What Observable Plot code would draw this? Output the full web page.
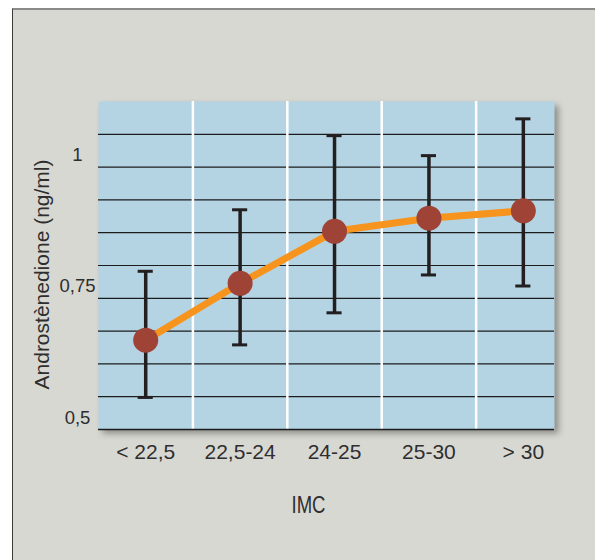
<!DOCTYPE html>
<html>
<head>
<meta charset="utf-8">
<script src="https://cdn.jsdelivr.net/npm/d3@7"></script>
<script src="https://cdn.jsdelivr.net/npm/@observablehq/plot@0.6"></script>
<style>
  html, body { margin: 0; padding: 0; background: #ffffff; }
  #wrap { position: relative; width: 595px; height: 560px; overflow: hidden; }
  #panel { position: absolute; left: 12px; top: 8px; width: 590px; height: 560px;
           background: #d8d8d3; border-top: 2px solid #8a8a88; border-left: 1.5px solid #3a3a3a; }
  #chart { position: absolute; left: 0; top: 0; }
</style>
</head>
<body>
<div id="wrap"><div id="panel"></div><div id="chart"></div></div>
<script>
// Categories (IMC classes) and values
const categories = ["< 22,5", "22,5-24", "24-25", "25-30", "> 30"];
const means = [0.650, 0.758, 0.857, 0.882, 0.896];
const lows  = [0.541, 0.641, 0.702, 0.774, 0.753];
const highs = [0.781, 0.898, 1.039, 1.001, 1.071];
const yTicks = [0.5, 0.75, 1];
const yLabel = "Androstènedione (ng/ml)";
const xLabel = "IMC";

const data = categories.map((c, i) => ({i, c, mean: means[i], low: lows[i], high: highs[i]}));

const yMin = 0.48, yStep = 0.0624;
const grid = d3.range(1, 10).map(k => yMin + k * yStep);
const yMax = yMin + 10 * yStep;
const separators = d3.range(categories.length - 1).map(i => i + 0.5);
const capHalf = 0.08;
const font = "'Liberation Sans', Arial, Helvetica, sans-serif";

const chart = Plot.plot({
  width: 595,
  height: 560,
  marginLeft: 98,
  marginRight: 41,
  marginTop: 101,
  marginBottom: 131,
  style: {background: "transparent", fontFamily: font, color: "#2e2e2e", overflow: "visible"},
  x: {type: "linear", domain: [-0.5, 4.33]},
  y: {domain: [yMin, yMax]},
  marks: [
    Plot.frame({fill: "#b4d4e4", stroke: null}),
    Plot.ruleY(grid, {stroke: "#1c1c1c", strokeWidth: 1.2}),
    Plot.ruleX(separators, {stroke: "#ffffff", strokeWidth: 2.5, y1: yMin, y2: yMax}),
    Plot.ruleY([yMin], {stroke: "#1c1c1c", strokeWidth: 1.6}),
    Plot.line(data, {x: "i", y: "mean", stroke: "#f7941d", strokeWidth: 7}),
    Plot.ruleX(data, {x: "i", y1: "low", y2: "high", stroke: "#231f20", strokeWidth: 3.5}),
    Plot.ruleY(data, {y: "low", x1: d => d.i - capHalf, x2: d => d.i + capHalf, stroke: "#231f20", strokeWidth: 3}),
    Plot.ruleY(data, {y: "high", x1: d => d.i - capHalf, x2: d => d.i + capHalf, stroke: "#231f20", strokeWidth: 3}),
    Plot.dot(data, {x: "i", y: "mean", r: 12.5, fill: "#9e4335", stroke: null}),
    Plot.axisY({ticks: yTicks, tickSize: 0, tickPadding: 21, textAnchor: "middle", dy: -1,
                tickFormat: d => String(d).replace(".", ","), fontSize: 18.5, label: null}),
    Plot.axisX({ticks: d3.range(categories.length), tickSize: 0, tickPadding: 15,
                tickFormat: i => categories[i], fontSize: 21, label: null}),
    Plot.text([yLabel], {frameAnchor: "left", rotate: -90, dx: -56, dy: 9, fontSize: 21,
                         fill: "#2e2e2e", lineAnchor: "middle", textAnchor: "middle"}),
    Plot.text([xLabel], {frameAnchor: "bottom", dx: -18, dy: 76, fontSize: 24,
                         fill: "#2e2e2e", lineAnchor: "middle", className: "xlab"})
  ]
});

d3.select(chart).select("[aria-label=frame]")
  .style("filter", "drop-shadow(4px 4px 3px rgba(0,0,0,0.35))");
d3.select(chart).selectAll(".xlab text")
  .attr("textLength", 34).attr("lengthAdjust", "spacingAndGlyphs");

document.getElementById("chart").appendChild(chart);
</script>
</body>
</html>
